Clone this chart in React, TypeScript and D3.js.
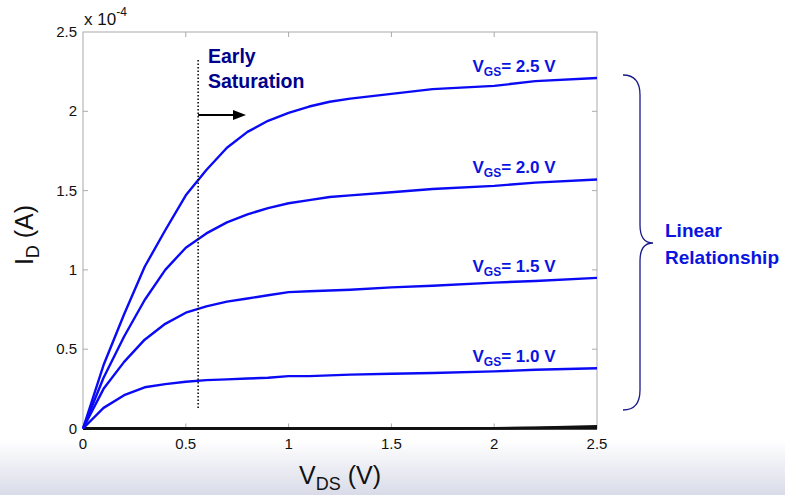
import React, { useRef, useEffect } from 'react';
import * as d3 from 'd3';

const vds = [0, 0.1, 0.2, 0.3, 0.4, 0.5, 0.6, 0.7, 0.8, 0.9, 1.0, 1.1, 1.2, 1.3, 1.5, 1.7, 2.0, 2.2, 2.5];

const id25 = [0, 0.4, 0.72, 1.02, 1.25, 1.47, 1.63, 1.77, 1.87, 1.94, 1.99, 2.03, 2.06, 2.08, 2.11, 2.14, 2.16, 2.19, 2.21];
const id20 = [0, 0.32, 0.58, 0.81, 1.0, 1.14, 1.23, 1.3, 1.35, 1.39, 1.42, 1.44, 1.46, 1.47, 1.49, 1.51, 1.53, 1.55, 1.57];
const id15 = [0, 0.25, 0.42, 0.56, 0.66, 0.73, 0.77, 0.8, 0.82, 0.84, 0.86, 0.865, 0.87, 0.875, 0.89, 0.9, 0.92, 0.93, 0.95];
const id10 = [0, 0.13, 0.21, 0.26, 0.28, 0.295, 0.305, 0.31, 0.315, 0.32, 0.33, 0.33, 0.335, 0.34, 0.345, 0.35, 0.36, 0.37, 0.38];
const idOff = [0, 0, 0, 0, 0, 0, 0, 0, 0, 0, 0, 0, 0, 0, 0, 0, 0.003, 0.008, 0.02];

const series = [
  { label: '2.5', values: id25 },
  { label: '2.0', values: id20 },
  { label: '1.5', values: id15 },
  { label: '1.0', values: id10 },
];

const xTicks = [0, 0.5, 1, 1.5, 2, 2.5];
const yTicks = [0, 0.5, 1, 1.5, 2, 2.5];

const W = 785;
const H = 495;
const M = { left: 83, right: 597, top: 32, bottom: 428.5 };
const font = "'Liberation Sans', Arial, sans-serif";

const App: React.FC = () => {
  const ref = useRef<SVGSVGElement | null>(null);

  useEffect(() => {
    if (!ref.current) return;
    const svg = d3.select(ref.current);
    svg.selectAll('*').remove();

    const x = d3.scaleLinear().domain([0, 2.5]).range([M.left, M.right]);
    const y = d3.scaleLinear().domain([0, 2.5]).range([M.bottom, M.top]);

    // background gradient at bottom
    const defs = svg.append('defs');
    const grad = defs.append('linearGradient').attr('id', 'bg').attr('x1', 0).attr('y1', 0).attr('x2', 0).attr('y2', 1);
    grad.append('stop').attr('offset', '0%').attr('stop-color', '#ffffff');
    grad.append('stop').attr('offset', '100%').attr('stop-color', '#d9dbe8');
    svg.append('rect').attr('width', W).attr('height', H).attr('fill', '#fff');
    svg.append('rect').attr('x', 0).attr('y', 440).attr('width', W).attr('height', H - 440).attr('fill', 'url(#bg)');

    // frame
    svg.append('rect')
      .attr('x', M.left).attr('y', M.top)
      .attr('width', M.right - M.left).attr('height', M.bottom - M.top)
      .attr('fill', '#fff').attr('stroke', '#aaa').attr('stroke-width', 1);

    // ticks
    xTicks.forEach((t) => {
      if (t === 0 || t === 2.5) return;
      svg.append('line').attr('x1', x(t)).attr('x2', x(t)).attr('y1', M.bottom).attr('y2', M.bottom - 5).attr('stroke', '#aaa');
      svg.append('line').attr('x1', x(t)).attr('x2', x(t)).attr('y1', M.top).attr('y2', M.top + 5).attr('stroke', '#aaa');
    });
    yTicks.forEach((t) => {
      if (t === 0 || t === 2.5) return;
      svg.append('line').attr('x1', M.left).attr('x2', M.left + 5).attr('y1', y(t)).attr('y2', y(t)).attr('stroke', '#aaa');
      svg.append('line').attr('x1', M.right).attr('x2', M.right - 5).attr('y1', y(t)).attr('y2', y(t)).attr('stroke', '#aaa');
    });

    svg.append('g').selectAll('text').data(xTicks).join('text')
      .attr('x', (d) => x(d)).attr('y', M.bottom + 20)
      .attr('text-anchor', 'middle')
      .attr('font-family', font).attr('font-size', 15).attr('fill', '#111')
      .text((d) => String(d));
    svg.append('g').selectAll('text').data(yTicks).join('text')
      .attr('x', M.left - 6).attr('y', (d) => y(d) + 5)
      .attr('text-anchor', 'end')
      .attr('font-family', font).attr('font-size', 15).attr('fill', '#111')
      .text((d) => String(d));

    // exponent
    const ex = svg.append('text').attr('x', M.left + 1).attr('y', 25)
      .attr('font-family', font).attr('font-size', 17).attr('fill', '#111');
    ex.append('tspan').text('x 10');
    ex.append('tspan').attr('dy', -9).attr('font-size', 12).text('-4');

    // axis labels
    const xl = svg.append('text').attr('x', 340).attr('y', 484).attr('text-anchor', 'middle')
      .attr('font-family', font).attr('font-size', 25).attr('fill', '#111');
    xl.append('tspan').text('V');
    xl.append('tspan').attr('dy', 6).attr('font-size', 18).text('DS');
    xl.append('tspan').attr('dy', -6).text(' (V)');

    const yl = svg.append('text').attr('transform', 'translate(33,235) rotate(-90)').attr('text-anchor', 'middle')
      .attr('font-family', font).attr('font-size', 25).attr('fill', '#111');
    yl.append('tspan').text('I');
    yl.append('tspan').attr('dy', 6).attr('font-size', 18).text('D');
    yl.append('tspan').attr('dy', -6).text(' (A)');

    const line = d3.line<number>().x((_, i) => x(vds[i])).y((d) => y(d));

    // off-state lines
    [0, 0.4, 0.7].forEach((k) => {
      svg.append('path').attr('d', line(idOff.map((v) => v * k))).attr('fill', 'none')
        .attr('stroke', '#111').attr('stroke-width', 2.4);
    });

    series.forEach((s) => {
      svg.append('path').attr('d', line(s.values)).attr('fill', 'none')
        .attr('stroke', '#0a0af5').attr('stroke-width', 2.4).attr('stroke-linejoin', 'round');
      const lastY = y(s.values[s.values.length - 1]);
      const t = svg.append('text').attr('x', 514).attr('y', lastY - 6).attr('text-anchor', 'middle')
        .attr('font-family', font).attr('font-weight', 'bold').attr('font-size', 17).attr('fill', '#0a14e0');
      t.append('tspan').text('V');
      t.append('tspan').attr('dy', 4).attr('font-size', 12).text('GS');
      t.append('tspan').attr('dy', -4).text(`= ${s.label} V`);
    });

    // early saturation marker
    const xs = x(0.56);
    svg.append('line').attr('x1', xs).attr('x2', xs).attr('y1', 60).attr('y2', 410)
      .attr('stroke', '#111').attr('stroke-width', 1.6).attr('stroke-dasharray', '1.5,2');
    svg.append('line').attr('x1', xs).attr('x2', 236).attr('y1', 115).attr('y2', 115)
      .attr('stroke', '#000').attr('stroke-width', 2.2);
    svg.append('path').attr('d', `M233,110 L246,115 L233,120 Z`).attr('fill', '#000');
    svg.append('text').attr('x', 208).attr('y', 63).attr('font-family', font).attr('font-weight', 'bold')
      .attr('font-size', 19.5).attr('fill', '#00008b').text('Early');
    svg.append('text').attr('x', 208).attr('y', 88).attr('font-family', font).attr('font-weight', 'bold')
      .attr('font-size', 19.5).attr('fill', '#00008b').text('Saturation');

    // brace
    svg.append('path')
      .attr('d', 'M623,75 Q640,75 640,95 L640,225 Q640,243 653,243 Q640,243 640,261 L640,390 Q640,410 623,410')
      .attr('fill', 'none').attr('stroke', '#1a1a8a').attr('stroke-width', 1.3);
    svg.append('text').attr('x', 665).attr('y', 237).attr('font-family', font).attr('font-weight', 'bold')
      .attr('font-size', 19).attr('fill', '#0a14e0').text('Linear');
    svg.append('text').attr('x', 665).attr('y', 264).attr('font-family', font).attr('font-weight', 'bold')
      .attr('font-size', 19).attr('fill', '#0a14e0').text('Relationship');
  }, []);

  return <svg ref={ref} width={W} height={H} style={{ position: 'absolute', left: 0, top: 0 }} />;
};

export default App;
